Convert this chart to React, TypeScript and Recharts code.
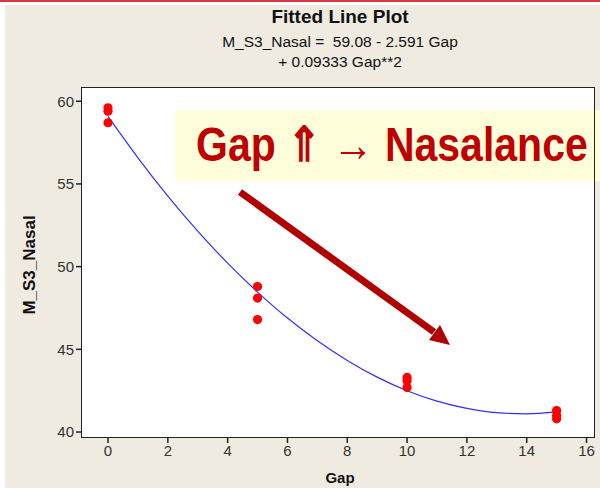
import { ComposedChart, Line, Scatter, XAxis, YAxis } from "recharts";

// observed values
const gapObs = [0, 0, 0, 5, 5, 5, 10, 10, 10, 15, 15, 15];
const nasalObs = [59.6, 59.4, 58.7, 48.8, 48.1, 46.8, 43.3, 43.1, 42.7, 41.3, 41.0, 40.8];

// fitted curve
const fitGap = [0, 1, 2, 3, 4, 5, 6, 7, 8, 9, 10, 11, 12, 13, 14, 15];
const fitNasal = [59.08, 56.58, 54.27, 52.15, 50.21, 48.46, 46.89, 45.52, 44.33, 43.32, 42.5, 41.87, 41.43, 41.17, 41.1, 41.22];

const xTicks = [0, 2, 4, 6, 8, 10, 12, 14, 16];
const yTicks = [40, 45, 50, 55, 60];

const FONT = "'Liberation Sans', Arial, sans-serif";

const RedDot = (props: any) => <circle cx={props.cx} cy={props.cy} r={4.6} fill="#ff0000" />;

export default function App() {
  const obsData = gapObs.map((g, i) => ({ gap: g, nasal: nasalObs[i] }));
  const fitData = fitGap.map((g, i) => ({ gap: g, nasal: fitNasal[i] }));

  return (
    <div style={{ position: "absolute", left: 0, top: 0, width: 600, height: 489, background: "#fff", fontFamily: FONT, overflow: "hidden" }}>
      <div style={{ position: "absolute", left: 0, top: 0, width: 600, height: 2, background: "#d9363e" }} />
      <div style={{ position: "absolute", left: 5, top: 5, width: 595, height: 483, background: "#efebe1" }} />

      {/* titles */}
      <div style={{ position: "absolute", left: 140, width: 400, top: 6, textAlign: "center", fontWeight: "bold", fontSize: 19, color: "#111" }}>
        Fitted Line Plot
      </div>
      <div style={{ position: "absolute", left: 140, width: 400, top: 32, textAlign: "center", fontSize: 15.5, color: "#111", whiteSpace: "pre", lineHeight: "20px" }}>
        {"M_S3_Nasal =  59.08 - 2.591 Gap\n+ 0.09333 Gap**2"}
      </div>

      {/* plot background */}
      <div style={{ position: "absolute", left: 82, top: 88, width: 512, height: 349, background: "#fff" }} />

      {/* annotation */}
      <div style={{ position: "absolute", left: 175, top: 110, width: 425, height: 71, background: "#ffffdc" }} />
      <div style={{ position: "absolute", left: 196, top: 117, fontSize: 41, fontWeight: "bold", color: "#c00000", whiteSpace: "nowrap", transform: "scale(1, 1.17)", transformOrigin: "left top" }}>
        Gap ⇑ → Nasalance
      </div>
      <svg style={{ position: "absolute", left: 0, top: 0 }} width={600} height={489}>
        <line x1={240} y1={192} x2={434} y2={332} stroke="#b00000" strokeWidth={7} />
        <polygon points="450,345 429,340 440,325" fill="#b00000" />
      </svg>

      <div style={{ position: "absolute", left: 0, top: 0 }}>
        <ComposedChart width={600} height={489} margin={{ top: 88, right: 6, bottom: 22, left: 32 }}>
          <XAxis
            type="number"
            dataKey="gap"
            domain={[-0.87, 16.25]}
            ticks={xTicks}
            allowDataOverflow
            axisLine={false}
            tickSize={6}
            tickLine={{ stroke: "#222", strokeWidth: 1.5 }}
            tick={{ fill: "#333", fontSize: 15, fontFamily: FONT }}
            height={30}
          />
          <YAxis
            type="number"
            dataKey="nasal"
            domain={[39.7, 60.8]}
            ticks={yTicks}
            allowDataOverflow
            axisLine={false}
            tickSize={6}
            tickLine={{ stroke: "#222", strokeWidth: 1.5 }}
            tick={{ fill: "#333", fontSize: 15, fontFamily: FONT }}
            width={50}
          />
          <Line data={fitData} dataKey="nasal" type="monotone" stroke="#3030ff" strokeWidth={1.2} dot={false} isAnimationActive={false} />
          <Scatter data={obsData} dataKey="nasal" fill="#ff0000" shape={RedDot} isAnimationActive={false} />
        </ComposedChart>
      </div>

      {/* frame */}
      <div style={{ position: "absolute", left: 81, top: 87, width: 512, height: 349, border: "1.5px solid #222", pointerEvents: "none" }} />

      {/* axis titles */}
      <div style={{ position: "absolute", left: 300, width: 80, top: 469, textAlign: "center", fontWeight: "bold", fontSize: 15, color: "#111" }}>Gap</div>
      <div style={{ position: "absolute", left: 30, top: 265, width: 0, height: 0 }}>
        <div style={{ position: "absolute", transform: "translate(-50%, -50%) rotate(-90deg)", fontWeight: "bold", fontSize: 17, color: "#111", whiteSpace: "nowrap" }}>
          M_S3_Nasal
        </div>
      </div>
    </div>
  );
}
